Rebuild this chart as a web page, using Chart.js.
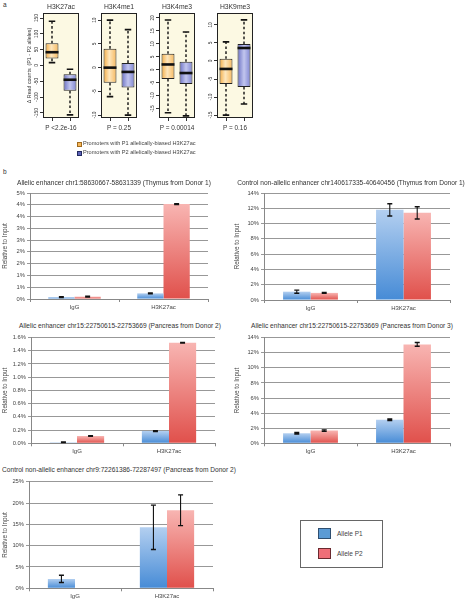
<!DOCTYPE html>
<html><head><meta charset="utf-8">
<script src="https://cdn.jsdelivr.net/npm/chart.js@4"></script>
<style>
html,body{margin:0;padding:0;background:#fff;}
body{width:468px;height:599px;position:relative;overflow:hidden;font-family:"Liberation Sans",Arial,sans-serif;}
canvas{position:absolute;}
.t{position:absolute;white-space:nowrap;color:#333;line-height:1;}
.c{transform:translate(-50%,-50%);}
.sq{position:absolute;box-sizing:border-box;}
</style></head><body>
<script>
// ---------------- DATA ----------------
// panel a : boxplots, five-number summaries [lower whisker, Q1, median, Q3, upper whisker]
const boxMarks = ['H3K27ac', 'H3K4me1', 'H3K4me3', 'H3K9me3'];
const pValues = ['P <2.2e-16', 'P = 0.25', 'P = 0.00014', 'P = 0.16'];
const p1Stats = [[9, 22, 42, 70, 140], [-6.1, -3.2, 0, 4.0, 10], [-16.5, -3.5, 2.1, 6.2, 19.2], [-15, -6.4, -2.2, 0.6, 5.3]];
const p2Stats = [[-156, -80, -45, -28, -12], [-10, -4.2, -0.9, 1.0, 8.0], [-17.7, -5.4, -1.2, 3.1, 14.6], [-11.9, -7.2, 3.6, 4.7, 11.4]];
const boxTicks = [[-150, -100, -50, 0, 50, 100, 150], [-10, -5, 0, 5, 10], [-15, -10, -5, 0, 5, 10, 15, 20], [-15, -10, -5, 0, 5, 10]];
const boxRanges = [[-166, 166], [-10.6, 11.5], [-18.5, 21.9], [-15.8, 13.3]];
const boxLegend = ['Promoters with P1 allelically-biased H3K27ac', 'Promoters with P2 allelically-biased H3K27ac'];

// panel b : bar charts (values in %)
const categories = ['IgG', 'H3K27ac'];
const seriesNames = ['Allele P1', 'Allele P2'];
const titles = [
  'Allelic enhancer chr1:58630667-58631339 (Thymus from Donor 1)',
  'Control non-allelic enhancer chr140617335-40640456 (Thymus from Donor 1)',
  'Allelic enhancer chr15:22750615-22753669 (Pancreas from Donor 2)',
  'Allelic enhancer chr15:22750615-22753669 (Pancreas from Donor 3)',
  'Control non-allelic enhancer chr9:72261386-72287497 (Pancreas from Donor 2)'
];
const c1P1 = [0.08, 0.24], c1P2 = [0.10, 4.03], c1E1 = [0.02, 0.02], c1E2 = [0.02, 0.02];
const c2P1 = [1.09, 11.8], c2P2 = [0.93, 11.4], c2E1 = [0.2, 0.8], c2E2 = [0.05, 0.8];
const c3P1 = [0.015, 0.185], c3P2 = [0.11, 1.52], c3E1 = [0.004, 0.006], c3E2 = [0.005, 0.005];
const c4P1 = [1.33, 3.12], c4P2 = [1.68, 13.1], c4E1 = [0.1, 0.1], c4E2 = [0.1, 0.25];
const c5P1 = [2.2, 14.3], c5P2 = [0, 18.3], c5E1 = [0.85, 5.2], c5E2 = [null, 3.6];
const c1Ticks = [0, 0.5, 1, 1.5, 2, 2.5, 3, 3.5, 4, 4.5];
const c1TickLabels = ['0%', '1%', '1%', '2%', '2%', '3%', '3%', '4%', '4%', '5%'];
const c2Ticks = [0, 2, 4, 6, 8, 10, 12, 14];
const c2TickLabels = ['0%', '2%', '4%', '6%', '8%', '10%', '12%', '14%'];
const c3Ticks = [0, 0.2, 0.4, 0.6, 0.8, 1.0, 1.2, 1.4, 1.6];
const c3TickLabels = ['0.0%', '0.2%', '0.4%', '0.6%', '0.8%', '1.0%', '1.2%', '1.4%', '1.6%'];
const c4Ticks = [0, 2, 4, 6, 8, 10, 12, 14];
const c4TickLabels = ['0%', '2%', '4%', '6%', '8%', '10%', '12%', '14%'];
const c5Ticks = [0, 5, 10, 15, 20, 25];
const c5TickLabels = ['0%', '5%', '10%', '15%', '20%', '25%'];

// ---------------- HELPERS ----------------
const FONT = '"Liberation Sans", Arial, sans-serif';
function txt(s, x, y, size, opts = {}) {
  const d = document.createElement('div');
  d.className = 't' + (opts.center ? ' c' : '');
  d.textContent = s;
  d.style.left = x + 'px'; d.style.top = y + 'px'; d.style.fontSize = size + 'px';
  if (opts.color) d.style.color = opts.color;
  if (!opts.center) d.style.transform = 'translateY(-50%)';
  document.body.appendChild(d);
  return d;
}
function mkCanvas(left, top, w, h) {
  const c = document.createElement('canvas');
  c.width = w; c.height = h;
  c.style.left = left + 'px'; c.style.top = top + 'px';
  c.style.width = w + 'px'; c.style.height = h + 'px';
  document.body.appendChild(c);
  return c;
}

// ---------------- PANEL A ----------------
txt('a', 3, 5, 6.5);
const frames = [[43, 79], [101, 137], [159, 195], [217, 253]];
const p1Pal = [[0, '#f5ad45'], [0.45, '#fde6bd'], [1, '#f7b95e']];
const p2Pal = [[0, '#6a70c4'], [0.5, '#c2c6ee'], [1, '#7e84d2']];

const boxFrame = {
  id: 'boxFrame',
  beforeDraw(chart) {
    const a = chart.chartArea, ctx = chart.ctx;
    ctx.save(); ctx.fillStyle = '#fcf9e3';
    ctx.fillRect(a.left, a.top, a.right - a.left, a.bottom - a.top); ctx.restore();
  },
  afterDatasetsDraw(chart) {
    const ctx = chart.ctx, ys = chart.scales.y, ds = chart.data.datasets[0];
    const meta = chart.getDatasetMeta(0);
    const py = v => ys.getPixelForValue(v);
    meta.data.forEach((bar, i) => {
      const s = ds.stats[i], x = bar.x, w = bar.width;
      ctx.save(); ctx.strokeStyle = '#111';
      ctx.lineWidth = 1.4; ctx.setLineDash([2.6, 2.3]);
      ctx.beginPath();
      ctx.moveTo(x, py(s[3])); ctx.lineTo(x, py(s[4]));
      ctx.moveTo(x, py(s[1])); ctx.lineTo(x, py(s[0]));
      ctx.stroke();
      ctx.setLineDash([]); ctx.lineWidth = 1.6;
      ctx.beginPath();
      ctx.moveTo(x - w / 4, py(s[4])); ctx.lineTo(x + w / 4, py(s[4]));
      ctx.moveTo(x - w / 4, py(s[0])); ctx.lineTo(x + w / 4, py(s[0]));
      ctx.stroke();
      ctx.lineWidth = 2.6;
      ctx.beginPath(); ctx.moveTo(x - w / 2, py(s[2])); ctx.lineTo(x + w / 2, py(s[2])); ctx.stroke();
      ctx.restore();
    });
    const a = chart.chartArea;
    ctx.save(); ctx.strokeStyle = '#222'; ctx.lineWidth = 1;
    ctx.strokeRect(Math.round(a.left) + 0.5, Math.round(a.top) + 0.5, Math.round(a.right - a.left) - 1, Math.round(a.bottom - a.top) - 1);
    ctx.restore();
  },
  afterDraw(chart) {
    const ys = chart.scales.y, ctx = chart.ctx;
    ctx.save(); ctx.fillStyle = '#333'; ctx.font = '4.8px ' + FONT;
    ctx.textAlign = 'center'; ctx.textBaseline = 'middle';
    ys.ticks.forEach(t => {
      ctx.save(); ctx.translate(ys.right - 6.5, ys.getPixelForValue(t.value));
      ctx.rotate(-Math.PI / 2); ctx.fillText(String(t.value), 0, 0); ctx.restore();
    });
    ctx.restore();
  }
};

function boxGrad(c) {
  const ch = c.chart;
  const pal = c.dataIndex === 0 ? p1Pal : p2Pal;
  if (!ch.chartArea) return pal[1][1];
  const xs = ch.scales.x;
  const cx = xs.getPixelForValue(c.dataIndex);
  const w = xs.width / 2 * 0.72;
  const g = ch.ctx.createLinearGradient(cx - w / 2, 0, cx + w / 2, 0);
  pal.forEach(p => g.addColorStop(p[0], p[1]));
  return g;
}

boxMarks.forEach((mark, k) => {
  const [fl, fr] = frames[k];
  const cl = k === 0 ? 26 : fl - 12;
  const top = 10, bottom = 121, plotT = 13, plotB = 118;
  const w = fr - cl + 2, h = bottom - top;
  const cv = mkCanvas(cl, top, w, h);
  const yw = fl - cl;
  new Chart(cv, {
    type: 'bar',
    data: {
      labels: ['P1', 'P2'],
      datasets: [{
        data: [[p1Stats[k][1], p1Stats[k][3]], [p2Stats[k][1], p2Stats[k][3]]],
        stats: [p1Stats[k], p2Stats[k]],
        backgroundColor: boxGrad, borderColor: '#222', borderWidth: 1, borderSkipped: false,
        categoryPercentage: 1, barPercentage: 0.72
      }]
    },
    options: {
      responsive: false, animation: false, devicePixelRatio: 1,
      layout: { padding: { top: plotT - top, right: 2, bottom: 0, left: 0 } },
      plugins: { legend: { display: false }, tooltip: { enabled: false } },
      scales: {
        x: {
          ticks: { display: false },
          grid: { offset: false, drawOnChartArea: false, drawTicks: true, tickLength: 3, color: '#333' },
          border: { display: false },
          afterFit: s => { s.height = bottom - plotB; }
        },
        y: {
          min: boxRanges[k][0], max: boxRanges[k][1],
          ticks: { display: false },
          afterBuildTicks: s => { s.ticks = boxTicks[k].map(v => ({ value: v })); },
          grid: { drawOnChartArea: false, drawTicks: true, tickLength: 3, color: '#333' },
          border: { display: false },
          title: { display: k === 0, text: 'Δ Read counts  (P1 - P2 alleles)', font: { size: 5.3, family: FONT }, color: '#333', padding: 0 },
          afterFit: s => { s.width = yw; }
        }
      }
    },
    plugins: [boxFrame]
  });
  const cx = (fl + fr) / 2;
  txt(mark, cx, 7, 6.8, { center: true });
  txt(pValues[k], cx, 128, 6.4, { center: true });
});

// legend of panel a
[['#f7b759', '#a06a1e'], ['#5d63b8', '#222a60']].forEach((c, i) => {
  const y = 144 + i * 9;
  const s = document.createElement('div'); s.className = 'sq';
  s.style.cssText += `left:77px;top:${y - 2.5}px;width:5px;height:5px;background:${c[0]};border:1px solid ${c[1]};`;
  document.body.appendChild(s);
  txt(boxLegend[i], 83, y, 5.6, { color: '#444' });
});

// ---------------- PANEL B ----------------
txt('b', 3, 172, 6.5);

const errorBars = {
  id: 'errorBars',
  afterDatasetsDraw(chart) {
    const ctx = chart.ctx, ys = chart.scales.y;
    chart.data.datasets.forEach((ds, di) => {
      const meta = chart.getDatasetMeta(di);
      meta.data.forEach((bar, i) => {
        const v = ds.data[i], e = ds.errors[i];
        if (e == null) return;
        const x = bar.x, y1 = ys.getPixelForValue(v + e), y2 = ys.getPixelForValue(v - e);
        ctx.save(); ctx.strokeStyle = '#111'; ctx.lineWidth = 1.1;
        ctx.beginPath(); ctx.moveTo(x, y1); ctx.lineTo(x, y2); ctx.stroke();
        ctx.lineWidth = 1.4;
        ctx.beginPath();
        ctx.moveTo(x - 2.5, y1); ctx.lineTo(x + 2.5, y1);
        ctx.moveTo(x - 2.5, y2); ctx.lineTo(x + 2.5, y2);
        ctx.stroke(); ctx.restore();
      });
    });
  }
};

function vGrad(c0, c1) {
  return c => {
    const ch = c.chart;
    if (!ch.chartArea) return c1;
    const ys = ch.scales.y;
    const yt = ys.getPixelForValue(c.raw), yb = ys.getPixelForValue(0);
    if (!isFinite(yt) || yb - yt < 1) return c0;
    const g = ch.ctx.createLinearGradient(0, yt, 0, yb);
    g.addColorStop(0, c0); g.addColorStop(1, c1);
    return g;
  };
}
const blueFill = vGrad('#b3cff0', '#468bd6');
const redFill = vGrad('#f8b5b2', '#e0504b');

function barChart(b, p1, p2, e1, e2, tickVals, tickLabels, title, tcx, tcy) {
  const cv = mkCanvas(b.left, b.top, b.w, b.h);
  new Chart(cv, {
    type: 'bar',
    data: {
      labels: categories,
      datasets: [
        { label: seriesNames[0], data: p1, errors: e1, backgroundColor: blueFill, borderWidth: 0, categoryPercentage: 0.59, barPercentage: 1 },
        { label: seriesNames[1], data: p2, errors: e2, backgroundColor: redFill, borderWidth: 0, categoryPercentage: 0.59, barPercentage: 1 }
      ]
    },
    options: {
      responsive: false, animation: false, devicePixelRatio: 1,
      layout: { padding: { top: b.pt - b.top, right: b.left + b.w - b.pr, bottom: 0, left: 0 } },
      plugins: { legend: { display: false }, tooltip: { enabled: false } },
      scales: {
        x: {
          ticks: { color: '#444', font: { size: 6, family: FONT }, padding: 1.5 },
          grid: { drawOnChartArea: false, tickLength: 3, color: '#888' },
          border: { color: '#888' },
          afterFit: s => { s.height = b.top + b.h - b.pb; }
        },
        y: {
          min: tickVals[0], max: tickVals[tickVals.length - 1],
          afterBuildTicks: s => { s.ticks = tickVals.map(v => ({ value: v })); },
          ticks: { color: '#444', font: { size: 5.8, family: FONT }, padding: 2, callback: (v, i) => tickLabels[i] },
          grid: { color: '#8c8c8c', tickLength: 3, lineWidth: 0.9 },
          border: { color: '#888' },
          title: { display: true, text: 'Relative to Input', color: '#444', font: { size: 6.3, family: FONT }, padding: { top: 1, bottom: 0 } },
          afterFit: s => { s.width = b.pl - b.left; }
        }
      }
    },
    plugins: [errorBars]
  });
  txt(title, tcx, tcy, 6.6, { center: true });
}

barChart({ left: 0, top: 186, w: 212, h: 126, pl: 30, pr: 208, pt: 193, pb: 299 }, c1P1, c1P2, c1E1, c1E2, c1Ticks, c1TickLabels, titles[0], 114, 183);
barChart({ left: 232, top: 186, w: 222, h: 127, pl: 264, pr: 450, pt: 193, pb: 300 }, c2P1, c2P2, c2E1, c2E2, c2Ticks, c2TickLabels, titles[1], 351, 183);
barChart({ left: 0, top: 330, w: 219, h: 126, pl: 31, pr: 215, pt: 337.5, pb: 443.3 }, c3P1, c3P2, c3E1, c3E2, c3Ticks, c3TickLabels, titles[2], 120, 326);
barChart({ left: 232, top: 330, w: 222, h: 126, pl: 264, pr: 450, pt: 337.6, pb: 443.3 }, c4P1, c4P2, c4E1, c4E2, c4Ticks, c4TickLabels, titles[3], 352, 326);
barChart({ left: 0, top: 474, w: 217, h: 125, pl: 29, pr: 213, pt: 481.7, pb: 588.3 }, c5P1, c5P2, c5E1, c5E2, c5Ticks, c5TickLabels, titles[4], 119, 470);

// legend of panel b
(function () {
  const box = document.createElement('div'); box.className = 'sq';
  box.style.cssText += 'left:300px;top:520px;width:83px;height:48px;border:1.5px solid #666;';
  document.body.appendChild(box);
  [['#5b9bd5', '#2f4f70'], ['#ef6f78', '#6a2a2f']].forEach((c, i) => {
    const y = 528 + i * 20;
    const s = document.createElement('div'); s.className = 'sq';
    s.style.cssText += `left:318px;top:${y}px;width:13px;height:11px;background:${c[0]};border:1px solid ${c[1]};`;
    document.body.appendChild(s);
    txt(seriesNames[i], 337, y + 5.5, 6.5, { color: '#444' });
  });
})();
</script>
</body></html>
